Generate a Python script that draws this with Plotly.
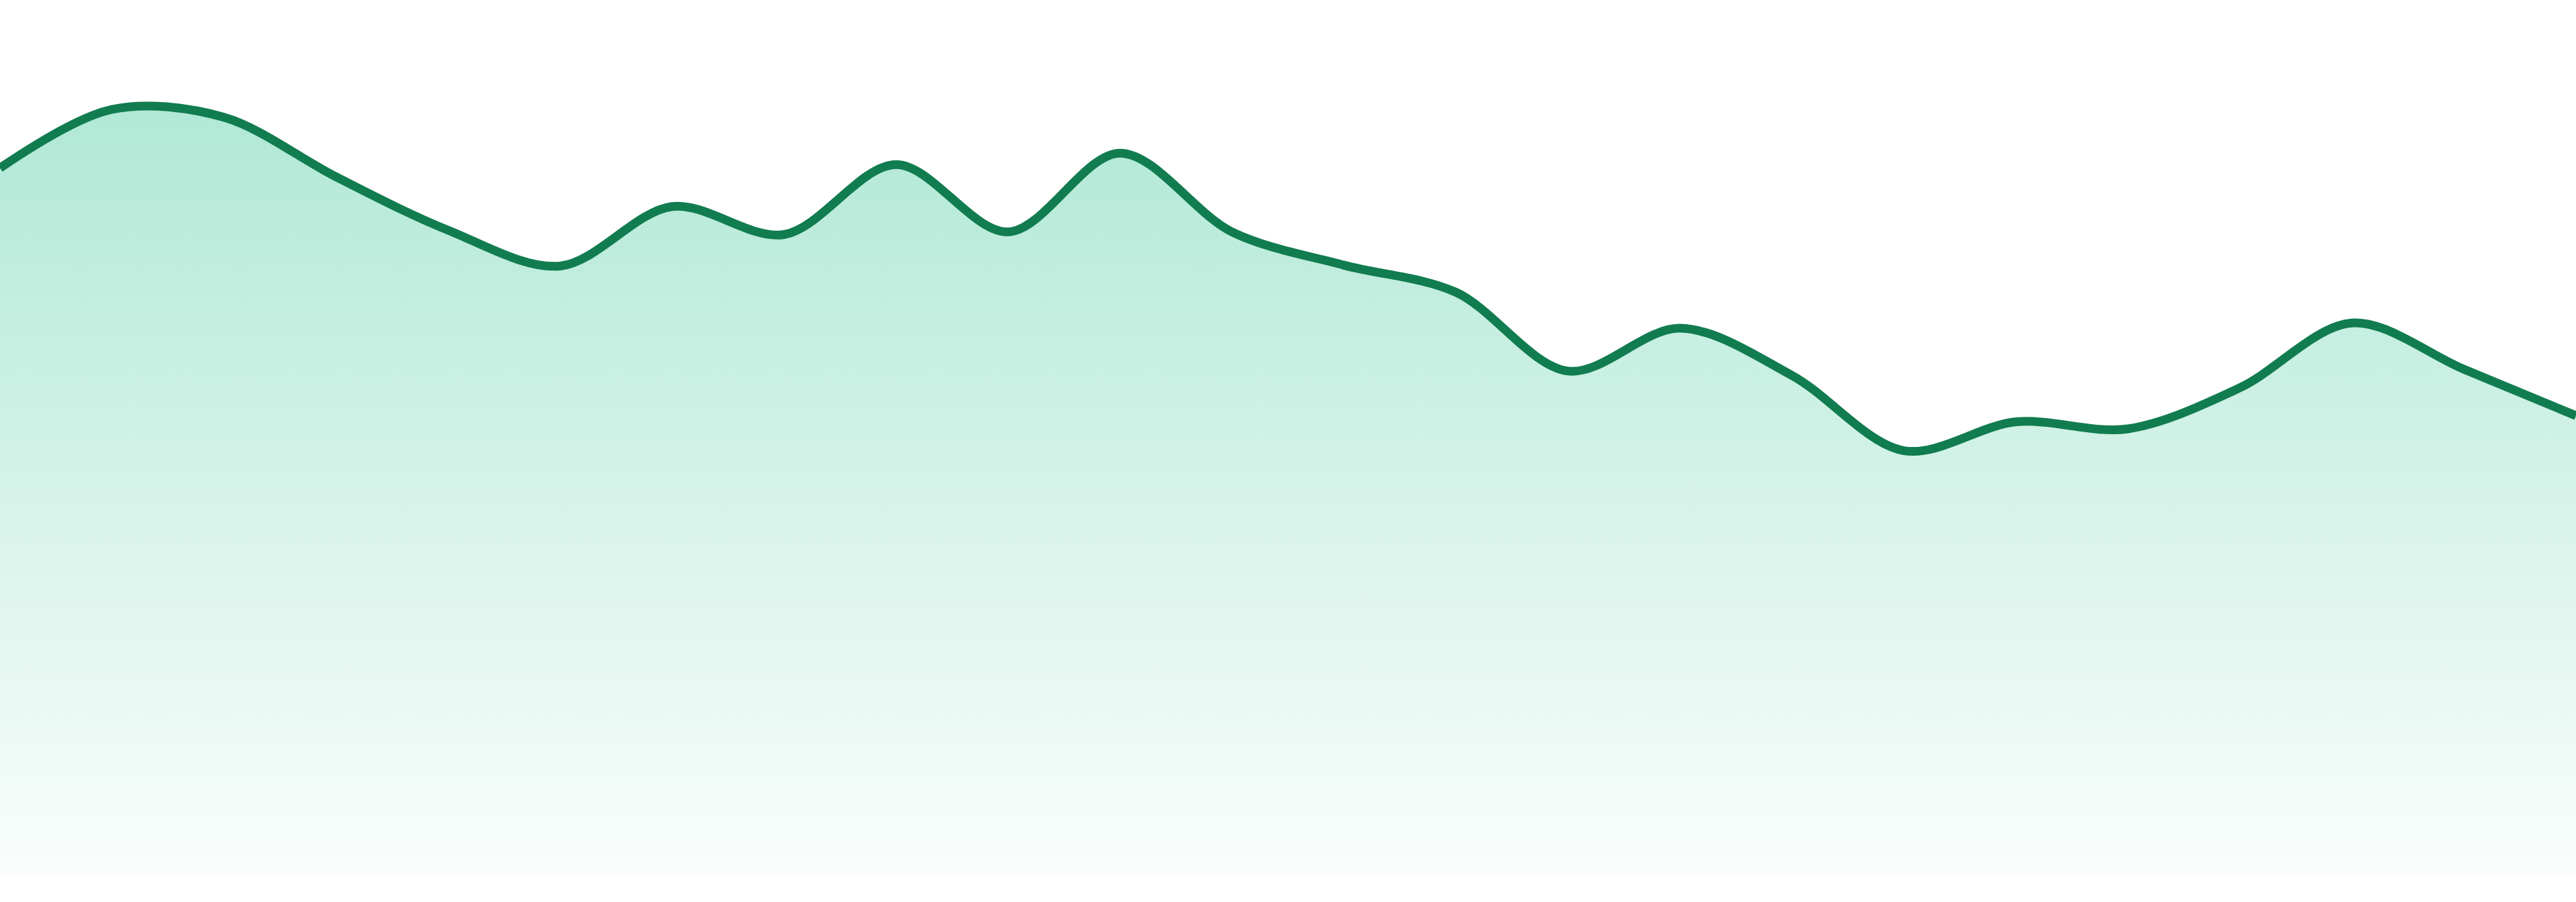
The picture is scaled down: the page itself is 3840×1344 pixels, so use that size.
import plotly.graph_objects as go

# Data
x_index = list(range(24))
values = [80.8, 87.5, 86.6, 79.8, 73.7, 69.6, 76.4, 73.2, 81.2, 73.5,
          82.5, 73.5, 69.7, 66.6, 57.6, 62.5, 57.1, 48.5, 51.8, 51.0,
          55.7, 63.1, 57.8, 52.5]

LINE_COLOR = "#117c50"

fig = go.Figure()
fig.add_trace(go.Scatter(
    x=x_index,
    y=values,
    mode="lines",
    line=dict(color=LINE_COLOR, width=13, shape="spline", smoothing=0.95),
    fill="tozeroy",
    fillgradient=dict(
        type="vertical",
        colorscale=[[0, "rgba(16,185,129,0.02)"], [1, "rgba(16,185,129,0.33)"]],
    ),
    hoverinfo="skip",
))

fig.update_layout(
    width=3840,
    height=1344,
    margin=dict(l=0, r=0, t=0, b=40),
    paper_bgcolor="white",
    plot_bgcolor="white",
    showlegend=False,
    xaxis=dict(range=[0, 23], visible=False, fixedrange=True),
    yaxis=dict(range=[0, 100], visible=False, fixedrange=True),
)

fig.write_html(
    "out.html",
    config={"displayModeBar": False},
    post_script="document.body.style.margin='0';document.body.style.overflow='hidden';",
)
